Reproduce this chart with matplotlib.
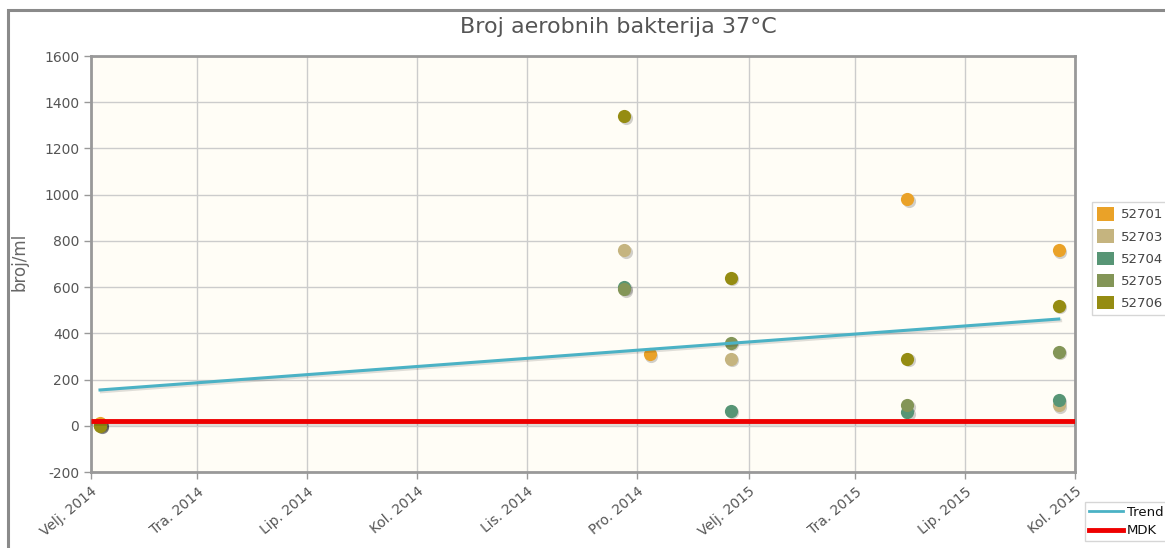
import numpy as np
import matplotlib
matplotlib.use("Agg")
import matplotlib.pyplot as plt
import matplotlib.transforms as mtransforms
from matplotlib.patches import Patch, Rectangle
from matplotlib.lines import Line2D
from datetime import datetime

plt.rcParams["axes.unicode_minus"] = False
nan = np.nan

# ---- data ----
title = "Broj aerobnih bakterija 37°C"
y_label = "broj/ml"
meas_dates = ["2014-02-06", "2014-11-24", "2014-12-08", "2015-01-22", "2015-04-30", "2015-07-23"]
series_names = ["52701", "52703", "52704", "52705", "52706"]
s52701 = [10, nan, 310, nan, 980, 760]
s52703 = [5, 760, nan, 290, nan, 90]
s52704 = [2, 600, nan, 65, 60, 110]
s52705 = [2, 590, nan, 360, 90, 320]
s52706 = [0, 1340, nan, 640, 290, 520]
trend_dates = ["2014-02-06", "2015-07-23"]
trend_values = [155, 462]
mdk_value = 20
x_range = ["2014-02-01", "2015-08-01"]
x_tick_dates = ["2014-02-01", "2014-04-01", "2014-06-01", "2014-08-01", "2014-10-01",
                "2014-12-01", "2015-02-01", "2015-04-01", "2015-06-01", "2015-08-01"]
x_tick_labels = ["Velj. 2014", "Tra. 2014", "Lip. 2014", "Kol. 2014", "Lis. 2014",
                 "Pro. 2014", "Velj. 2015", "Tra. 2015", "Lip. 2015", "Kol. 2015"]
y_ticks = [-200, 0, 200, 400, 600, 800, 1000, 1200, 1400, 1600]

colors = ["#EAA228", "#c5b47f", "#579575", "#839557", "#958c12"]
trend_color = "#4bb2c5"
mdk_color = "#ee0000"

def d(s):
    return datetime.strptime(s, "%Y-%m-%d")

W, H = 1165, 548
fig = plt.figure(figsize=(W / 100, H / 100), dpi=100)
fig.patch.set_facecolor("white")

# outer frame
fig.patches.append(Rectangle((8 / W, -0.2), 1.2, 1 - 10 / H + 0.2, transform=fig.transFigure,
                             fill=False, edgecolor="#8a8a8a", linewidth=2.2, zorder=0))

ax = fig.add_axes([91 / W, (H - 472) / H, (1075 - 91) / W, (472 - 56) / H])
ax.set_facecolor("#fffdf6")

xd = [d(s) for s in meas_dates]
all_series = [s52701, s52703, s52704, s52705, s52706]

shadow = mtransforms.offset_copy(ax.transData, fig=fig, x=1.6, y=-1.6, units="dots")
for vals, col in zip(all_series, colors):
    ax.scatter(xd, vals, s=90, color="#000000", alpha=0.18, linewidths=0,
               transform=shadow, zorder=3)
    ax.scatter(xd, vals, s=90, color=col, linewidths=0, zorder=4)

# trend line
tx = [d(s) for s in trend_dates]
ax.plot(tx, trend_values, color="#000000", alpha=0.12, lw=2.5, transform=shadow, zorder=5)
ax.plot(tx, trend_values, color=trend_color, lw=2.2, zorder=6)

# MDK line
xr = [d(s) for s in x_range]
ax.plot(xr, [mdk_value, mdk_value], color="#000000", alpha=0.12, lw=4, transform=shadow, zorder=5)
ax.plot(xr, [mdk_value, mdk_value], color=mdk_color, lw=3.5, zorder=7, solid_capstyle="butt")

ax.set_xlim(xr[0], xr[1])
ax.set_ylim(-200, 1600)
ax.set_yticks(y_ticks)
ax.set_xticks([d(s) for s in x_tick_dates])
ax.set_xticklabels(x_tick_labels, rotation=40, ha="right", rotation_mode="anchor")
ax.grid(True, color="#cccccc", lw=1)
ax.set_axisbelow(True)
for sp in ax.spines.values():
    sp.set_color("#999999")
    sp.set_linewidth(2)
ax.tick_params(axis="both", colors="#999999", labelcolor="#555555", labelsize=10,
               length=5, width=1)
ax.tick_params(axis="x", pad=4)

fig.text(618 / W, 1 - 27 / H, title, ha="center", va="center", fontsize=16, color="#555555")
fig.text(19 / W, 1 - 262 / H, y_label, ha="center", va="center", rotation=90,
         fontsize=12, color="#666666")

# legends
handles = [Patch(facecolor=c, edgecolor="none") for c in colors]
leg1 = fig.legend(handles, series_names, loc="upper left",
                  bbox_to_anchor=(1092 / W, 1 - 202 / H), bbox_transform=fig.transFigure,
                  fontsize=9.5, frameon=True, fancybox=False, edgecolor="#cccccc",
                  handlelength=1.3, handleheight=1.2, handletextpad=0.5, labelspacing=0.6,
                  borderpad=0.4, borderaxespad=0)
for t in leg1.get_texts():
    t.set_color("#444444")

h2 = [Line2D([0], [0], color=trend_color, lw=2), Line2D([0], [0], color=mdk_color, lw=3.5)]
leg2 = fig.legend(h2, ["Trend", "MDK"], loc="upper left",
                  bbox_to_anchor=(1085 / W, 1 - 502 / H), bbox_transform=fig.transFigure,
                  fontsize=9.5, frameon=True, fancybox=False, edgecolor="#cccccc",
                  handlelength=2.6, handletextpad=0.3, labelspacing=0.4,
                  borderpad=0.3, borderaxespad=0)
for t in leg2.get_texts():
    t.set_color("#111111")

fig.savefig("out.png", dpi=100)
